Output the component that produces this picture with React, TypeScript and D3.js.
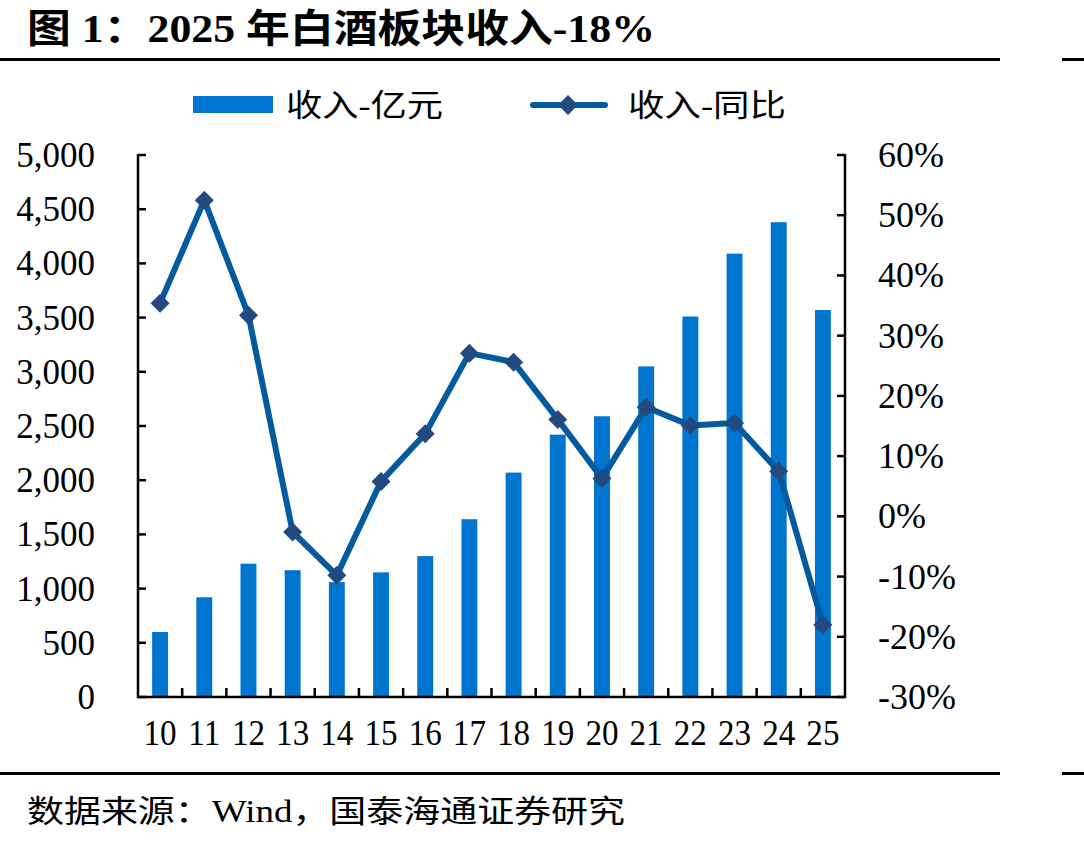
import React from "react";
import * as d3 from "d3";

// Liquor-sector revenue (100m CNY) and YoY growth (%), 2010-2025
const years = ["10", "11", "12", "13", "14", "15", "16", "17", "18", "19", "20", "21", "22", "23", "24", "25"];
const revenue = [600, 920, 1230, 1170, 1060, 1150, 1300, 1640, 2070, 2420, 2590, 3050, 3510, 4090, 4380, 3570];
const yoy = [35.4, 52.5, 33.4, -2.6, -9.8, 5.8, 13.7, 27.1, 25.6, 16.1, 6.3, 18.1, 15.1, 15.5, 7.5, -18];
const leftTicks = [0, 500, 1000, 1500, 2000, 2500, 3000, 3500, 4000, 4500, 5000];
const rightTicks = [-30, -20, -10, 0, 10, 20, 30, 40, 50, 60];

const W = 1084;
const H = 844;
const plot = { left: 138, right: 845, top: 155, bottom: 697 };

const BAR = "#0075CF";
const LINE = "#045A9E";
const MARK = "#234A7F";
const FONT = "'Liberation Serif', 'Times New Roman', 'Noto Sans CJK SC', serif";

export default function App() {
  const x = d3
    .scaleBand<string>()
    .domain(years)
    .range([plot.left, plot.right])
    .paddingInner(0.64)
    .paddingOuter(0.32);
  const step = x.step();
  const cx = (d: string) => (x(d) as number) + x.bandwidth() / 2;

  const yL = d3.scaleLinear().domain([0, 5000]).range([plot.bottom, plot.top]);
  const yR = d3.scaleLinear().domain([-30, 60]).range([plot.bottom, plot.top]);

  const line = d3
    .line<number>()
    .x((_, i) => cx(years[i]))
    .y((v) => yR(v));

  const fmt = d3.format(",");
  const diamond = (px: number, py: number, r: number) =>
    `M${px},${py - r}L${px + r},${py}L${px},${py + r}L${px - r},${py}Z`;

  // category separators on the x axis
  const boundaries = d3.range(1, years.length).map((i) => plot.left + i * step);

  return (
    <svg
      width={W}
      height={H}
      viewBox={`0 0 ${W} ${H}`}
      style={{ position: "absolute", left: 0, top: 0, background: "#fff" }}
      fontFamily={FONT}
    >
      {/* heading */}
      <text x={27} y={42} fontSize={39} fontWeight="bold" textLength={628} lengthAdjust="spacingAndGlyphs">
        图 1：2025 年白酒板块收入-18%
      </text>
      <rect x={0} y={58} width={1000} height={3} fill="#000" />
      <rect x={1062} y={58} width={22} height={3} fill="#000" />

      {/* legend */}
      <rect x={193} y={96} width={80} height={17} fill={BAR} />
      <text x={286} y={116} fontSize={31} textLength={157} lengthAdjust="spacingAndGlyphs">
        收入-亿元
      </text>
      <line x1={533} y1={105} x2={605} y2={105} stroke={LINE} strokeWidth={6} strokeLinecap="round" />
      <path d={diamond(568, 105, 10)} fill={MARK} />
      <text x={628} y={116} fontSize={31} textLength={158} lengthAdjust="spacingAndGlyphs">
        收入-同比
      </text>

      {/* bars */}
      {revenue.map((v, i) => (
        <rect
          key={years[i]}
          x={x(years[i])}
          y={yL(v)}
          width={x.bandwidth()}
          height={yL(0) - yL(v)}
          fill={BAR}
        />
      ))}

      {/* axes */}
      <g stroke="#000" strokeWidth={2.5}>
        <line x1={plot.left} y1={plot.top - 1} x2={plot.left} y2={plot.bottom + 1} />
        <line x1={plot.right} y1={plot.top - 1} x2={plot.right} y2={plot.bottom + 1} />
        <line x1={plot.left - 1} y1={plot.bottom} x2={plot.right + 1} y2={plot.bottom} />
        {leftTicks.map((t) => (
          <line key={"l" + t} x1={plot.left} y1={yL(t)} x2={plot.left + 8} y2={yL(t)} />
        ))}
        {rightTicks.map((t) => (
          <line key={"r" + t} x1={plot.right} y1={yR(t)} x2={plot.right - 8} y2={yR(t)} />
        ))}
        {boundaries.map((bx, i) => (
          <line key={"b" + i} x1={bx} y1={plot.bottom} x2={bx} y2={plot.bottom - 9} />
        ))}
      </g>

      {/* tick labels */}
      <g fontSize={35} fill="#000">
        {leftTicks.map((t) => (
          <text key={"lt" + t} x={95} y={yL(t) + 12} textAnchor="end">
            {fmt(t)}
          </text>
        ))}
      </g>
      <g fontSize={36} fill="#000">
        {rightTicks.map((t) => (
          <text key={"rt" + t} x={878} y={yR(t) + 12} textAnchor="start">
            {`${t}%`}
          </text>
        ))}
      </g>
      <g fontSize={36} fill="#000">
        {years.map((yv) => (
          <text
            key={"x" + yv}
            transform={`translate(${cx(yv)},745) scale(0.92,1)`}
            textAnchor="middle"
          >
            {yv}
          </text>
        ))}
      </g>

      {/* growth line */}
      <path d={line(yoy) || ""} fill="none" stroke={LINE} strokeWidth={6} strokeLinejoin="round" />
      {yoy.map((v, i) => (
        <path key={"m" + i} d={diamond(cx(years[i]), yR(v), 9.5)} fill={MARK} />
      ))}

      {/* footer */}
      <rect x={0} y={772} width={1000} height={3} fill="#000" />
      <rect x={1062} y={772} width={22} height={3} fill="#000" />
      <text x={27} y={822} fontSize={31} textLength={598} lengthAdjust="spacingAndGlyphs">
        数据来源：Wind，国泰海通证券研究
      </text>
    </svg>
  );
}
